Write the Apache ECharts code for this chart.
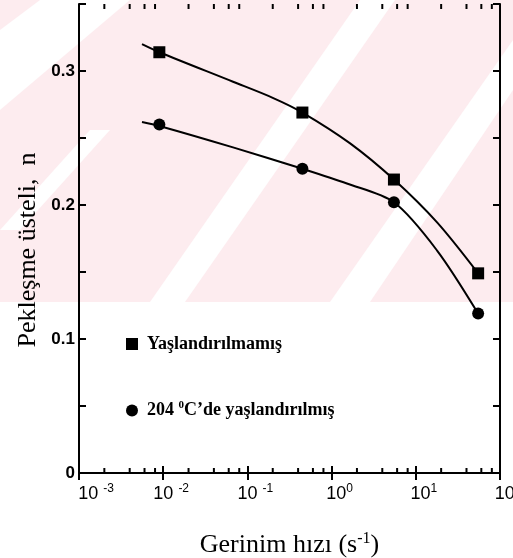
<!DOCTYPE html>
<html>
<head>
<meta charset="utf-8">
<script src="https://cdn.jsdelivr.net/npm/echarts@6/dist/echarts.min.js"></script>
<style>
  html, body { margin: 0; padding: 0; background: #ffffff; }
  #chart { width: 513px; height: 558px; }
</style>
</head>
<body>
<div id="chart"></div>
<script>
// Strain rate (s^-1) of each test
const strainRates = [0.009, 0.45, 5.5, 55];
// Strain-hardening exponent n, unaged and aged at 204 °C
const unagedN = [0.314, 0.269, 0.219, 0.149];
const agedN = [0.260, 0.227, 0.202, 0.119];
// Fitted trend curves
const unagedFitRates = [0.0056, 0.009, 0.0675, 0.20, 0.45, 1.66, 5.5, 17.9, 55];
const unagedFitN = [0.320, 0.314, 0.292, 0.280, 0.269, 0.246, 0.219, 0.187, 0.149];
const agedFitRates = [0.0056, 0.009, 0.0675, 0.45, 1.52, 5.5, 17.9, 55];
const agedFitN = [0.262, 0.259, 0.243, 0.227, 0.216, 0.202, 0.166, 0.119];
// Axis ticks
const xDecades = [-3, -2, -1, 0, 1];
const xMinorSteps = [2, 4, 6, 8];
const yTickLabels = ['0', '0.1', '0.2', '0.3'];

const seriesNames = ['Yaşlandırılmamış', '204 0C’de yaşlandırılmış'];

const pairs = (xs, ys) => xs.map((x, i) => [x, ys[i]]);
const minorTickValues = [];
xDecades.forEach(d => xMinorSteps.forEach(m => minorTickValues.push([m * Math.pow(10, d), 0])));

const chart = echarts.init(document.getElementById('chart'), null, { renderer: 'canvas' });

const axisLineStyle = { color: '#000', width: 2 };
const labelFont = 'Liberation Sans, Arial, sans-serif';
const serifFont = 'Liberation Serif, Times New Roman, serif';

chart.setOption({
  backgroundColor: '#ffffff',
  animation: false,
  graphic: {
    elements: [
      { type: 'rect', z: -100, silent: true, shape: { x: 0, y: 0, width: 513, height: 302 }, style: { fill: '#fdecef' } },
      { type: 'polygon', z: -99, silent: true, shape: { points: [[0, 30], [40, 0], [130, 0], [0, 110]] }, style: { fill: '#ffffff' } },
      { type: 'polygon', z: -99, silent: true, shape: { points: [[150, 302], [360, 0], [395, 0], [185, 302]] }, style: { fill: '#ffffff' } },
      { type: 'polygon', z: -99, silent: true, shape: { points: [[330, 302], [513, 40], [513, 90], [370, 302]] }, style: { fill: '#ffffff' } },
      { type: 'polygon', z: -99, silent: true, shape: { points: [[0, 230], [90, 130], [110, 130], [20, 230]] }, style: { fill: '#ffffff' } },
      {
        // Y axis title
        type: 'text', z: 10, silent: true,
        x: 28, y: 250, rotation: Math.PI / 2,
        style: {
          text: 'Pekleşme üsteli,  n',
          fill: '#000',
          font: '26px "Liberation Serif", "Times New Roman", serif',
          align: 'center', verticalAlign: 'middle'
        }
      }
    ]
  },
  grid: { left: 79, right: 13, top: 4, bottom: 85, containLabel: false, outerBoundsMode: 'none' },
  legend: {
    orient: 'vertical',
    left: 121,
    top: 330,
    itemWidth: 12,
    itemHeight: 12,
    itemGap: 47,
    data: [
      { name: seriesNames[0], icon: 'rect' },
      { name: seriesNames[1], icon: 'circle' }
    ],
    formatter: name => name === seriesNames[1]
      ? '204 {sup|0}C’de yaşlandırılmış'
      : name,
    textStyle: {
      color: '#000',
      fontFamily: serifFont,
      fontSize: 18,
      fontWeight: 'bold',
      padding: [0, 0, 0, 4],
      rich: {
        sup: { fontFamily: serifFont, fontSize: 11, fontWeight: 'bold', color: '#000', padding: [0, 0, 10, 0] }
      }
    }
  },
  xAxis: [
    {
      type: 'log', logBase: 10, min: 0.001, max: 100, interval: 1,
      position: 'bottom',
      axisLine: { lineStyle: axisLineStyle },
      axisTick: { inside: true, length: 7, lineStyle: axisLineStyle },
      splitLine: { show: false },
      axisLabel: {
        margin: 10,
        color: '#000',
        fontFamily: labelFont,
        fontSize: 18,
        formatter: v => {
          const e = Math.round(Math.log10(v));
          const base = e === -3 ? 'first' : 'b';
          return e < 0 ? '{' + base + '|10 }{sup|' + e + '}' : '{' + base + '|10}{sup|' + e + '}';
        },
        rich: {
          b: { fontFamily: labelFont, fontSize: 18, color: '#000', padding: [0, 0, 0, 16] },
          first: { fontFamily: labelFont, fontSize: 18, color: '#000', padding: [0, 0, 0, 34] },
          sup: { fontFamily: labelFont, fontSize: 12, color: '#000', padding: [0, 0, 10, 0] }
        }
      },
      name: 'Gerinim hızı (s{sup|-1})',
      nameLocation: 'middle',
      nameGap: 58,
      nameTextStyle: {
        color: '#000', fontFamily: serifFont, fontSize: 26,
        rich: { sup: { fontFamily: serifFont, fontSize: 16, color: '#000', padding: [0, 0, 13, 0] } }
      }
    },
    {
      type: 'log', logBase: 10, min: 0.001, max: 100, interval: 1,
      position: 'top',
      axisLine: { lineStyle: axisLineStyle },
      axisTick: { inside: true, length: 7, lineStyle: axisLineStyle },
      axisLabel: { show: false },
      splitLine: { show: false }
    }
  ],
  yAxis: [
    {
      type: 'value', min: 0, max: 0.35, interval: 0.05,
      position: 'left',
      axisLine: { show: true, lineStyle: axisLineStyle },
      axisTick: { show: true, inside: true, length: 7, lineStyle: axisLineStyle },
      splitLine: { show: false },
      axisLabel: {
        margin: 4,
        color: '#000',
        fontFamily: labelFont,
        fontSize: 17,
        fontWeight: 'bold',
        formatter: v => {
          const idx = Math.round(v * 100) / 10;
          return Number.isInteger(idx) && yTickLabels[idx] !== undefined ? yTickLabels[idx] : '';
        }
      }
    },
    {
      type: 'value', min: 0, max: 0.35, interval: 0.05,
      position: 'right',
      axisLine: { show: true, lineStyle: axisLineStyle },
      axisTick: { show: true, inside: true, length: 7, lineStyle: axisLineStyle },
      axisLabel: { show: false },
      splitLine: { show: false }
    }
  ],
  series: [
    {
      name: 'unagedFit', type: 'line', smooth: 0.3, showSymbol: false, silent: true,
      lineStyle: { color: '#000', width: 2 },
      data: pairs(unagedFitRates, unagedFitN)
    },
    {
      name: 'agedFit', type: 'line', smooth: 0.3, showSymbol: false, silent: true,
      lineStyle: { color: '#000', width: 2 },
      data: pairs(agedFitRates, agedFitN)
    },
    {
      name: seriesNames[0], type: 'scatter', symbol: 'rect', symbolSize: 12, z: 5,
      itemStyle: { color: '#000', opacity: 1 },
      data: pairs(strainRates, unagedN)
    },
    {
      name: seriesNames[1], type: 'scatter', symbol: 'circle', symbolSize: 12, z: 5,
      itemStyle: { color: '#000', opacity: 1 },
      data: pairs(strainRates, agedN)
    },
    {
      // Minor log ticks on the bottom and top axes
      name: 'minorTicks', type: 'custom', silent: true, clip: false, z: 10,
      data: minorTickValues,
      encode: { x: 0, y: 1 },
      renderItem: (params, api) => {
        const p = api.coord([api.value(0), 0]);
        const top = params.coordSys.y;
        const style = { stroke: '#000', lineWidth: 2 };
        return {
          type: 'group',
          children: [
            { type: 'line', shape: { x1: p[0], y1: p[1], x2: p[0], y2: p[1] - 5 }, style },
            { type: 'line', shape: { x1: p[0], y1: top, x2: p[0], y2: top + 5 }, style }
          ]
        };
      }
    }
  ]
});
</script>
</body>
</html>
